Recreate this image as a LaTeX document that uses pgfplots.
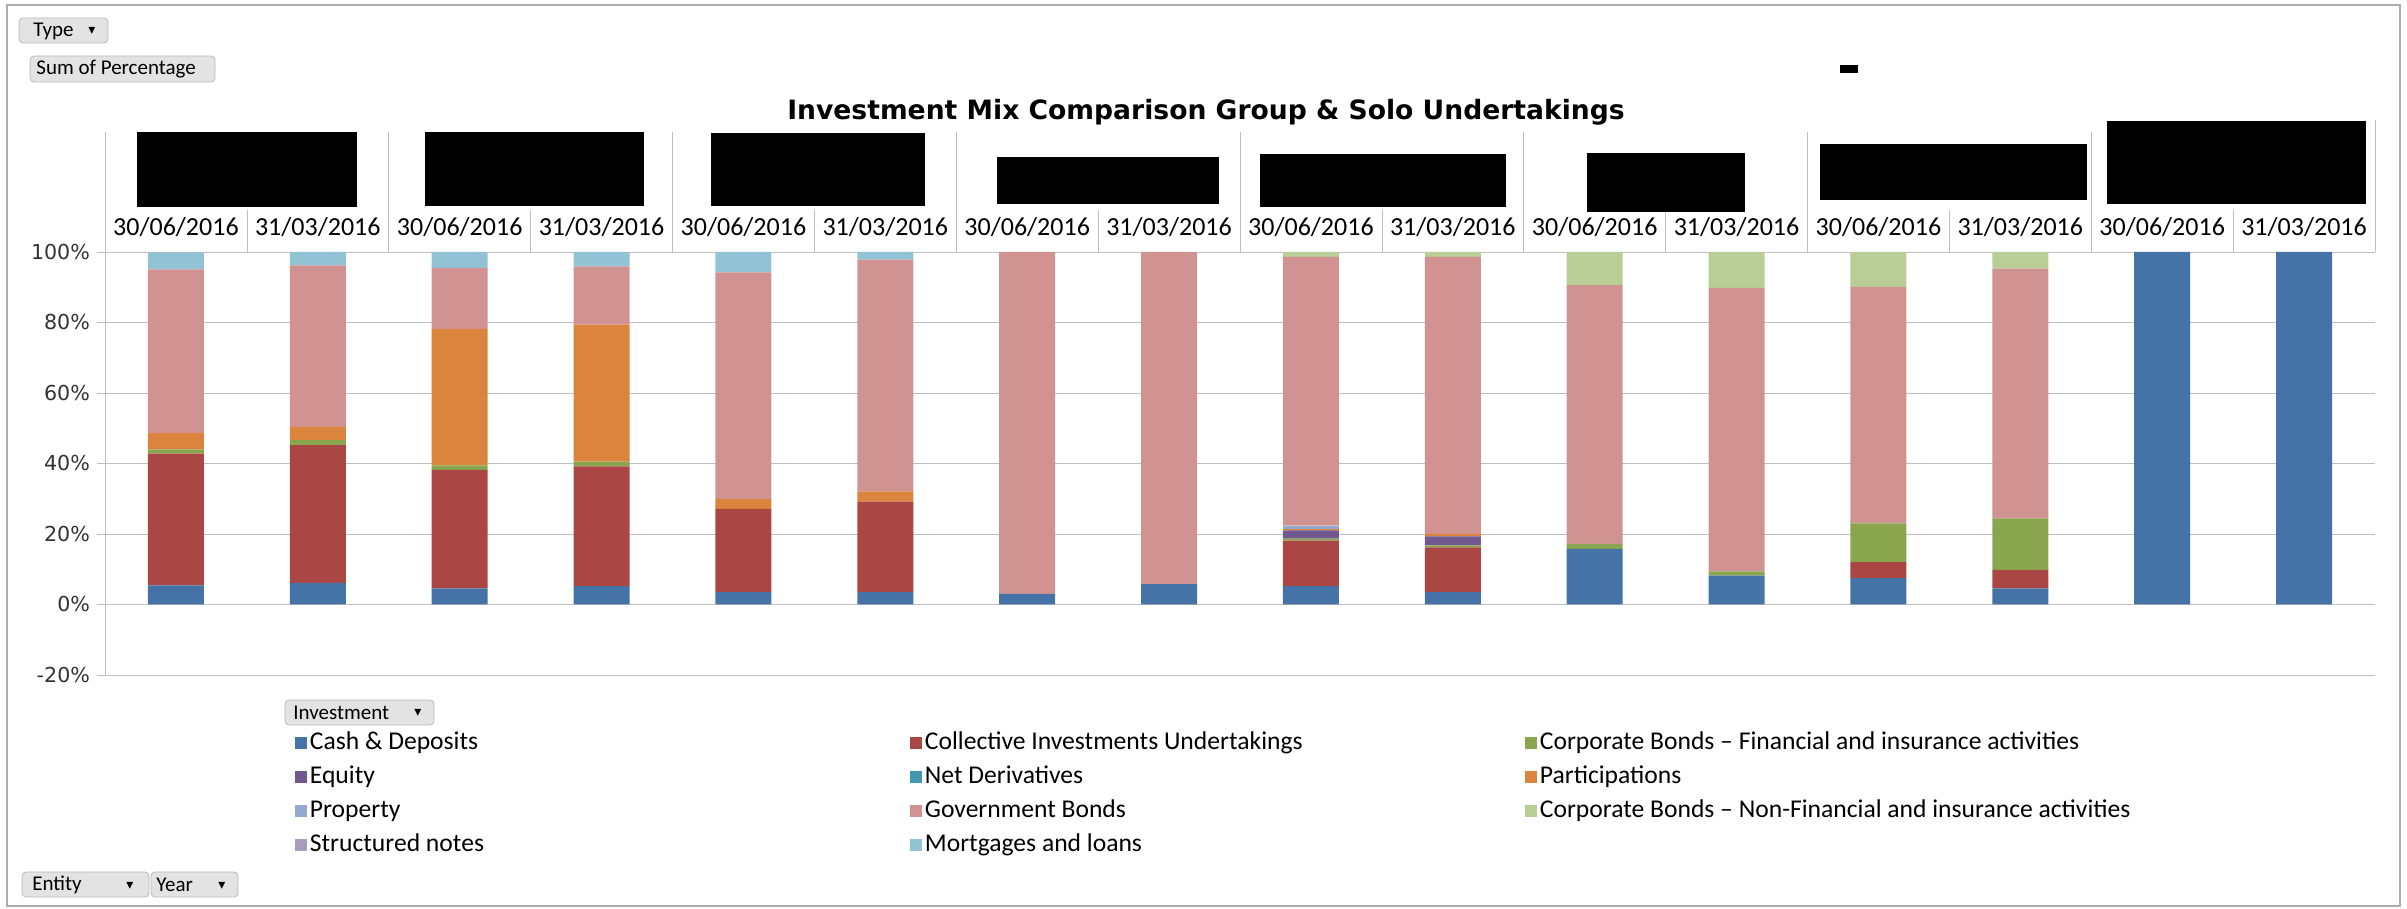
\documentclass[border=0pt]{standalone}
\usepackage{pgfplots}
\pgfplotsset{compat=1.18}
\usepackage{fontspec}
\setmainfont{Carlito}
\newfontfamily\dejavu{DejaVu Sans}
\definecolor{cCash}{HTML}{4572A7}
\definecolor{cCIU}{HTML}{AA4643}
\definecolor{cCFin}{HTML}{89A54E}
\definecolor{cEq}{HTML}{71588F}
\definecolor{cND}{HTML}{4198AF}
\definecolor{cPart}{HTML}{DB843D}
\definecolor{cProp}{HTML}{93A9CF}
\definecolor{cGov}{HTML}{D19392}
\definecolor{cCNF}{HTML}{B9CD96}
\definecolor{cSN}{HTML}{A99BBD}
\definecolor{cMort}{HTML}{92C3D5}
\definecolor{gridc}{HTML}{BFBFBF}
\tikzset{btn/.style={draw=gray!55, rounded corners=2pt, fill=gray!22}}
\begin{document}
\begin{tikzpicture}
\path[use as bounding box] (0,0) rectangle (1203.5pt,454.5pt);
\begin{axis}[
  at={(52.5pt,117pt)}, anchor=south west,
  scale only axis, width=1135pt, height=211.5pt,
  ybar stacked, bar width=28pt,
  xmin=-0.5, xmax=15.5, ymin=-20, ymax=100,
  axis x line*=top, axis y line*=left,
  x axis line style={draw=gridc,-}, y axis line style={draw=gridc,-},
  xtick={0,...,15}, xtick style={draw=none},
  xticklabels={30/06/2016,31/03/2016,30/06/2016,31/03/2016,30/06/2016,31/03/2016,30/06/2016,31/03/2016,30/06/2016,31/03/2016,30/06/2016,31/03/2016,30/06/2016,31/03/2016,30/06/2016,31/03/2016},
  xticklabel style={font=\fontsize{13}{15}\selectfont},
  ytick={-20,0,20,40,60,80,100},
  yticklabels={-20\%,0\%,20\%,40\%,60\%,80\%,100\%},
  yticklabel style={font=\dejavu\fontsize{10.3}{12}\selectfont, text=black!80},
  ymajorgrids, major grid style={draw=gridc},
  tick align=outside, major tick length=4pt, ytick style={draw=gridc},
  every axis plot/.append style={draw=none},
  clip=false,
  legend columns=3,
  legend image code/.code={\fill[#1] (0pt,-3pt) rectangle (6pt,3pt);},
  legend style={at={(0.0837,-0.126)}, anchor=north west, draw=none, fill=none,
    inner sep=0pt, column sep=0pt, row sep=2.5pt,
    nodes={inner sep=1.25pt, text height=9pt, text depth=3pt},
    font=\fontsize{12.8}{14}\selectfont},
  legend cell align=left,
]
% Cash & Deposits
\addplot[fill=cCash] coordinates {(0,5.4) (1,6.1) (2,4.6) (3,5.2) (4,3.5) (5,3.5) (6,3.0) (7,5.8) (8,5.2) (9,3.5) (10,15.8) (11,8.2) (12,7.5) (13,4.6) (14,100) (15,100)};
% Collective Investments Undertakings
\addplot[fill=cCIU] coordinates {(0,37.4) (1,39.1) (2,33.6) (3,34.0) (4,23.6) (5,25.7) (6,0) (7,0) (8,12.9) (9,12.7) (10,0) (11,0) (12,4.5) (13,5.2) (14,0) (15,0)};
% Corporate Bonds - Financial
\addplot[fill=cCFin] coordinates {(0,1.2) (1,1.4) (2,1.3) (3,1.3) (4,0) (5,0) (6,0) (7,0) (8,0.6) (9,0.6) (10,1.4) (11,1.2) (12,11.0) (13,14.6) (14,0) (15,0)};
% Equity
\addplot[fill=cEq] coordinates {(0,0) (1,0) (2,0) (3,0) (4,0) (5,0) (6,0) (7,0) (8,2.3) (9,2.5) (10,0) (11,0) (12,0) (13,0) (14,0) (15,0)};
% Net Derivatives
\addplot[fill=cND] coordinates {(0,0) (1,0) (2,0) (3,0) (4,0) (5,0) (6,0) (7,0) (8,0) (9,0) (10,0) (11,0) (12,0) (13,0) (14,0) (15,0)};
% Participations
\addplot[fill=cPart] coordinates {(0,4.7) (1,3.8) (2,38.7) (3,38.9) (4,2.8) (5,2.9) (6,0) (7,0) (8,0.4) (9,0.7) (10,0) (11,0) (12,0) (13,0) (14,0) (15,0)};
% Property
\addplot[fill=cProp] coordinates {(0,0) (1,0) (2,0) (3,0) (4,0) (5,0) (6,0) (7,0) (8,1.0) (9,0) (10,0) (11,0) (12,0) (13,0) (14,0) (15,0)};
% Government Bonds
\addplot[fill=cGov] coordinates {(0,46.4) (1,45.8) (2,17.3) (3,16.5) (4,64.3) (5,65.7) (6,97.0) (7,94.2) (8,76.2) (9,78.6) (10,73.4) (11,80.4) (12,67.1) (13,70.9) (14,0) (15,0)};
% Corporate Bonds - Non-Financial
\addplot[fill=cCNF] coordinates {(0,0) (1,0) (2,0) (3,0) (4,0) (5,0) (6,0) (7,0) (8,1.4) (9,1.4) (10,9.4) (11,10.2) (12,9.9) (13,4.7) (14,0) (15,0)};
% Structured notes
\addplot[fill=cSN] coordinates {(0,0) (1,0) (2,0) (3,0) (4,0) (5,0) (6,0) (7,0) (8,0) (9,0) (10,0) (11,0) (12,0) (13,0) (14,0) (15,0)};
% Mortgages and loans
\addplot[fill=cMort] coordinates {(0,4.8) (1,3.8) (2,4.5) (3,4.1) (4,5.8) (5,2.2) (6,0) (7,0) (8,0) (9,0) (10,0) (11,0) (12,0) (13,0) (14,0) (15,0)};
\legend{\makebox[299pt][l]{Cash \& Deposits},
  \makebox[299pt][l]{Collective Investments Undertakings},
  Corporate Bonds – Financial and insurance activities,
  \makebox[299pt][l]{Equity},
  \makebox[299pt][l]{Net Derivatives},
  Participations,
  \makebox[299pt][l]{Property},
  \makebox[299pt][l]{Government Bonds},
  Corporate Bonds – Non-Financial and insurance activities,
  \makebox[299pt][l]{Structured notes},
  \makebox[299pt][l]{Mortgages and loans}}
\end{axis}
\begin{scope}[x=0.5pt,y=-0.5pt,yshift=454.5pt]
  % outer frame
  \draw[gray!65, line width=0.9pt] (7,5) rectangle (2400,906);
  % header group lines
  \foreach \gx in {105,388.75,672.5,956.25,1240,1523.75,1807.5,2091.25}
    \draw[gridc] (\gx,132) -- (\gx,252);
  \draw[gridc] (2375,120) -- (2375,252);
  \foreach \dx in {246.9,530.6,814.4,1098.1,1381.9,1665.6,1949.4,2233.1}
    \draw[gridc] (\dx,210) -- (\dx,252);
  % redaction boxes
  \fill[black] (137,132) rectangle (357,207);
  \fill[black] (425,132) rectangle (644,206);
  \fill[black] (711,133) rectangle (925,206);
  \fill[black] (997,157) rectangle (1219,204);
  \fill[black] (1260,154) rectangle (1506,207);
  \fill[black] (1587,153) rectangle (1745,212);
  \fill[black] (1820,144) rectangle (2087,200);
  \fill[black] (2107,121) rectangle (2366,204);
  \fill[black] (1840,65) rectangle (1858,73);
  % title
  \node[font=\dejavu\bfseries\fontsize{13.3}{15}\selectfont] at (1206,112) {Investment Mix Comparison Group \& Solo Undertakings};
  % buttons
  \draw[btn] (19,18) rectangle (108,43);
  \node[anchor=west, font=\fontsize{10.5}{12}\selectfont, inner sep=0pt] at (33,31) {Type};
  \node[font=\dejavu\fontsize{7}{8}\selectfont, inner sep=0pt] at (92,31) {▾};
  \draw[btn] (30,56) rectangle (215,82);
  \node[anchor=west, font=\fontsize{10.5}{12}\selectfont, inner sep=0pt] at (36,69) {Sum of Percentage};
  \draw[btn] (285,700) rectangle (434,725);
  \node[anchor=west, font=\fontsize{10.5}{12}\selectfont, inner sep=0pt] at (293,713) {Investment};
  \node[font=\dejavu\fontsize{7}{8}\selectfont, inner sep=0pt] at (418,713) {▾};
  \draw[btn] (22,872) rectangle (149,897);
  \node[anchor=west, font=\fontsize{10.5}{12}\selectfont, inner sep=0pt] at (32,885) {Entity};
  \node[font=\dejavu\fontsize{7}{8}\selectfont, inner sep=0pt] at (130,886) {▾};
  \draw[btn] (151,872) rectangle (238,897);
  \node[anchor=west, font=\fontsize{10.5}{12}\selectfont, inner sep=0pt] at (156,885) {Year};
  \node[font=\dejavu\fontsize{7}{8}\selectfont, inner sep=0pt] at (222,886) {▾};
\end{scope}
\end{tikzpicture}
\end{document}
